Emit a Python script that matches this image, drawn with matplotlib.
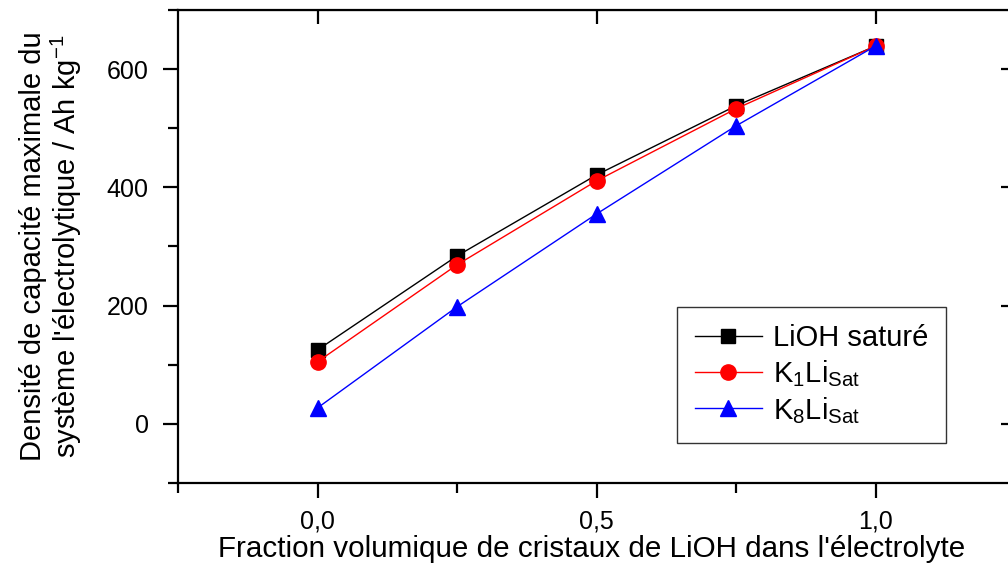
import matplotlib
matplotlib.use("Agg")
import matplotlib.pyplot as plt
from matplotlib.ticker import MultipleLocator, FuncFormatter

plt.rcParams['font.family'] = ['Liberation Sans', 'DejaVu Sans']
plt.rcParams['mathtext.fontset'] = 'custom'
plt.rcParams['mathtext.rm'] = 'Liberation Sans'
plt.rcParams['mathtext.it'] = 'Liberation Sans'

# data
fractions = [0.0, 0.25, 0.5, 0.75, 1.0]
lioh_sat = [125, 284, 421, 538, 639]
k1li_sat = [105, 269, 411, 533, 639]
k8li_sat = [27, 198, 355, 504, 639]
series_labels = ["LiOH saturé", r"K$_1$Li$_{\mathrm{Sat}}$", r"K$_8$Li$_{\mathrm{Sat}}$"]

fig = plt.figure(figsize=(10.08, 5.64), dpi=100)
ax = fig.add_axes([178 / 1008, 81 / 564, 837 / 1008, 473 / 564])

ax.plot(fractions, lioh_sat, color="black", lw=1, marker="s", ms=10, label=series_labels[0])
ax.plot(fractions, k1li_sat, color="red", lw=1, marker="o", ms=11, label=series_labels[1])
ax.plot(fractions, k8li_sat, color="blue", lw=1, marker="^", ms=12, label=series_labels[2])

ax.set_xlim(-0.25, 1.25)
ax.set_ylim(-100, 700)
ax.xaxis.set_major_locator(MultipleLocator(0.5))
ax.xaxis.set_minor_locator(MultipleLocator(0.25))
ax.yaxis.set_major_locator(MultipleLocator(200))
ax.yaxis.set_minor_locator(MultipleLocator(100))
ax.xaxis.set_major_formatter(FuncFormatter(lambda v, p: ("%.1f" % v).replace(".", ",")))

for s in ax.spines.values():
    s.set_linewidth(1.6)

ax.tick_params(which="major", direction="out", length=11, width=1.6, labelsize=18, pad=10)
ax.tick_params(which="minor", direction="out", length=7, width=1.6)
ax.tick_params(axis="x", which="major", pad=8)
# mirrored ticks pointing inward on top and right
ax_top = ax.secondary_xaxis("top")
ax_top.set_xticks([0.0, 0.5, 1.0])
ax_top.tick_params(direction="in", length=10, width=1.6, labeltop=False)
ax_right = ax.secondary_yaxis("right")
ax_right.set_yticks([0, 200, 400, 600])
ax_right.tick_params(direction="in", length=10, width=1.6, labelright=False)

ax.set_xlabel("Fraction volumique de cristaux de LiOH dans l'électrolyte", fontsize=21.3)
ax.xaxis.set_label_coords((592 - 178) / 837, (483 - 535) / 473)
ax.set_ylabel("Densité de capacité maximale du\nsystème l'électrolytique / Ah kg$^{-1}$", fontsize=21,
              linespacing=1.05)
ax.yaxis.set_label_coords((84 - 178) / 837, 0.5)

leg = ax.legend(loc="lower left", bbox_to_anchor=((677 - 178) / 837, (483 - 443) / 473),
                fontsize=21, frameon=True, fancybox=False, edgecolor="black",
                borderpad=0.6, handlelength=2.3, handletextpad=0.4, labelspacing=0.2,
                borderaxespad=0)
leg.get_frame().set_linewidth(1)

fig.savefig("out.png", dpi=100)
